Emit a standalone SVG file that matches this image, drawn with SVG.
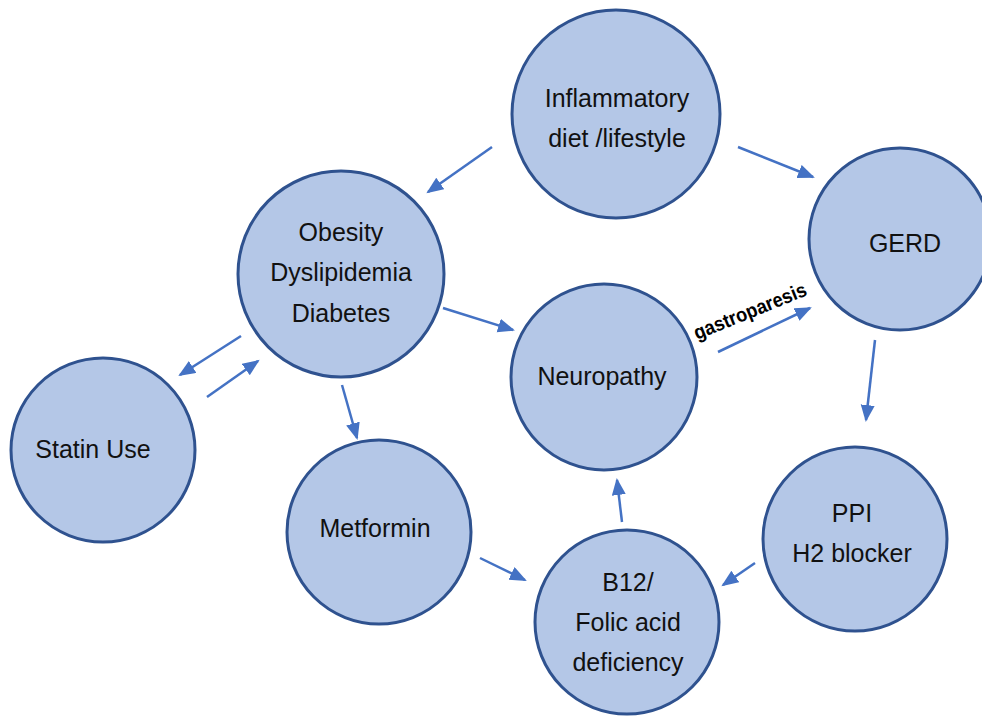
<svg xmlns="http://www.w3.org/2000/svg" width="982" height="716" viewBox="0 0 982 716">
<defs>
<style>
.node{fill:#b4c7e7;stroke:#2f528f;stroke-width:3}
.lbl{font-family:"Liberation Sans",Arial,sans-serif;font-size:25px;fill:#111;text-anchor:middle}
.arr{stroke:#4472c4;stroke-width:2.5;fill:none;marker-end:url(#ah)}
.gp{font-family:"Liberation Sans",Arial,sans-serif;font-size:20px;font-weight:bold;fill:#000}
</style>
<marker id="ah" markerUnits="userSpaceOnUse" markerWidth="18" markerHeight="16" refX="15" refY="7" orient="auto">
<path d="M0,0 L17,7 L0,14 Z" fill="#4472c4"/>
</marker>
</defs>
<rect width="982" height="716" fill="#fff"/>
<g id="connectors">
<line class="arr" x1="492" y1="147" x2="428" y2="192"/>
<line class="arr" x1="738" y1="147" x2="813" y2="177"/>
<line class="arr" x1="443" y1="308" x2="513" y2="330"/>
<line class="arr" x1="241" y1="336" x2="180" y2="375"/>
<line class="arr" x1="207" y1="397" x2="258" y2="361"/>
<line class="arr" x1="342" y1="385" x2="357" y2="438"/>
<line class="arr" x1="480" y1="558" x2="525" y2="580"/>
<line class="arr" x1="622" y1="522" x2="617" y2="480"/>
<line class="arr" x1="755" y1="563" x2="723" y2="585"/>
<line class="arr" x1="875" y1="340" x2="866" y2="420"/>
<line class="arr" x1="718" y1="352" x2="810" y2="308"/>
<text class="gp" x="697" y="340" textLength="120" lengthAdjust="spacingAndGlyphs" transform="rotate(-22.1 697 340)">gastroparesis</text>
</g>
<g id="inflammatory">
<circle class="node" cx="616" cy="114" r="104"/>
<text class="lbl" x="617" y="107">Inflammatory</text>
<text class="lbl" x="617" y="147">diet /lifestyle</text>
</g>
<g id="gerd">
<circle class="node" cx="900" cy="239" r="91"/>
<text class="lbl" x="905" y="252">GERD</text>
</g>
<g id="obesity">
<circle class="node" cx="341" cy="274" r="103"/>
<text class="lbl" x="341" y="241">Obesity</text>
<text class="lbl" x="341" y="281">Dyslipidemia</text>
<text class="lbl" x="341" y="322">Diabetes</text>
</g>
<g id="neuropathy">
<circle class="node" cx="604" cy="377" r="93"/>
<text class="lbl" x="602" y="385">Neuropathy</text>
</g>
<g id="statin">
<circle class="node" cx="103" cy="450" r="92"/>
<text class="lbl" x="93" y="458">Statin Use</text>
</g>
<g id="metformin">
<circle class="node" cx="379" cy="532" r="92"/>
<text class="lbl" x="375" y="537">Metformin</text>
</g>
<g id="b12">
<circle class="node" cx="627" cy="622" r="92"/>
<text class="lbl" x="628" y="591">B12/</text>
<text class="lbl" x="628" y="631">Folic acid</text>
<text class="lbl" x="628" y="671">deficiency</text>
</g>
<g id="ppi">
<circle class="node" cx="855" cy="539" r="92"/>
<text class="lbl" x="852" y="522">PPI</text>
<text class="lbl" x="852" y="562">H2 blocker</text>
</g>
</svg>
